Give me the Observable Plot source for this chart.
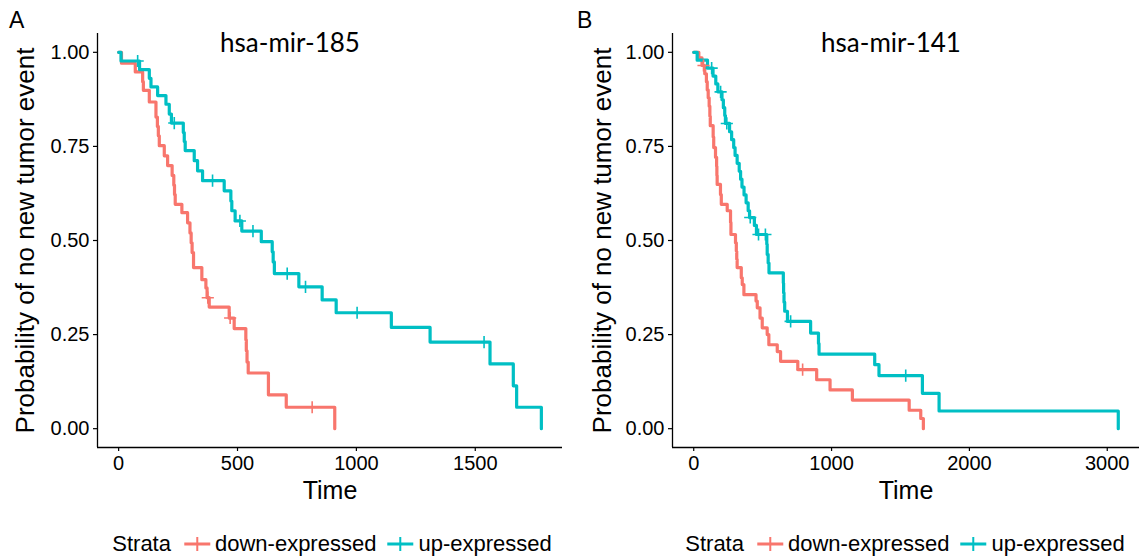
<!DOCTYPE html>
<html>
<head>
<meta charset="utf-8">
<script src="https://cdn.jsdelivr.net/npm/d3@7"></script>
<script src="https://cdn.jsdelivr.net/npm/@observablehq/plot@0.6"></script>
<style>
  html, body { margin: 0; padding: 0; background: #fff; }
  #root { position: relative; width: 1139px; height: 558px; overflow: hidden; background: #fff; }
  .panel { position: absolute; top: 0; }
  .tag { position: absolute; font-family: "Liberation Sans", Arial, sans-serif; font-size: 23px; color: #000; line-height: 1; }
  .title { position: absolute; font-family: Lato, "Open Sans", sans-serif; font-size: 26px; color: #000; line-height: 1; transform: translateX(-50%); white-space: nowrap; }
  .legend { position: absolute; display: flex; align-items: center; transform: translateX(-50%); height: 24px; line-height: 24px;
            font-family: "Liberation Sans", Arial, sans-serif; font-size: 22px; color: #000; white-space: nowrap; }
  .legend svg { margin: 0 4px; }
</style>
</head>
<body>
<div id="root"></div>
<script>
// ---------- data ----------
const strata = ["down-expressed", "up-expressed"];
const strataColors = ["#F8766D", "#00BFC4"];
const yTicks = [0, 0.25, 0.5, 0.75, 1];

// Panel A: hsa-mir-185
const mir185Title = "hsa-mir-185";
const mir185Ticks = [0, 500, 1000, 1500];
const mir185DownTime = [0, 12, 70, 101, 104, 129, 157, 163, 167, 171, 192, 206, 225, 232, 235, 238, 266, 290, 300, 305, 309, 315, 350, 367, 372, 381, 465, 486, 535, 537, 540, 545, 630, 705, 909];
const mir185DownSurv = [1, 0.971, 0.948, 0.922, 0.899, 0.868, 0.828, 0.803, 0.778, 0.752, 0.725, 0.699, 0.673, 0.647, 0.622, 0.596, 0.574, 0.547, 0.520, 0.494, 0.468, 0.428, 0.396, 0.374, 0.348, 0.323, 0.294, 0.266, 0.236, 0.207, 0.177, 0.148, 0.090, 0.057, 0];
const mir185DownCensor = [375, 469, 814];
const mir185UpTime = [0, 10, 88, 129, 136, 164, 199, 213, 222, 272, 276, 280, 318, 332, 353, 444, 472, 476, 490, 518, 600, 646, 650, 655, 758, 856, 915, 1147, 1310, 1562, 1660, 1674, 1778];
const mir185UpSurv = [1, 0.977, 0.954, 0.931, 0.908, 0.885, 0.862, 0.836, 0.812, 0.787, 0.763, 0.739, 0.712, 0.685, 0.659, 0.632, 0.605, 0.579, 0.552, 0.525, 0.497, 0.470, 0.443, 0.412, 0.377, 0.342, 0.308, 0.269, 0.230, 0.172, 0.114, 0.057, 0];
const mir185UpCensor = [80, 234, 395, 510, 565, 709, 786, 1003, 1537];

// Panel B: hsa-mir-141
const mir141Title = "hsa-mir-141";
const mir141Ticks = [0, 1000, 2000, 3000];
const mir141DownTime = [0, 37, 60, 80, 92, 98, 105, 112, 117, 120, 141, 145, 158, 166, 168, 170, 194, 200, 243, 267, 270, 303, 309, 312, 315, 345, 352, 364, 452, 461, 481, 497, 533, 545, 606, 630, 755, 892, 989, 1151, 1563, 1647, 1666];
const mir141DownSurv = [1, 0.985, 0.965, 0.943, 0.922, 0.900, 0.879, 0.857, 0.830, 0.805, 0.775, 0.747, 0.721, 0.697, 0.673, 0.649, 0.622, 0.596, 0.579, 0.548, 0.516, 0.494, 0.472, 0.450, 0.428, 0.401, 0.383, 0.356, 0.339, 0.321, 0.294, 0.268, 0.250, 0.223, 0.205, 0.179, 0.157, 0.130, 0.103, 0.076, 0.049, 0.027, 0];
const mir141DownCensor = [71, 790];
const mir141UpTime = [0, 25, 100, 140, 160, 175, 205, 215, 225, 230, 260, 275, 290, 300, 315, 330, 340, 350, 365, 380, 395, 405, 440, 455, 530, 533, 540, 546, 650, 652, 655, 660, 680, 848, 905, 909, 1313, 1344, 1659, 1780, 3080];
const mir141UpSurv = [1, 0.979, 0.958, 0.937, 0.916, 0.895, 0.874, 0.853, 0.832, 0.811, 0.789, 0.768, 0.747, 0.726, 0.705, 0.684, 0.663, 0.642, 0.621, 0.600, 0.579, 0.561, 0.540, 0.516, 0.490, 0.463, 0.440, 0.414, 0.387, 0.361, 0.336, 0.312, 0.285, 0.254, 0.226, 0.198, 0.170, 0.141, 0.094, 0.047, 0];
const mir141UpCensor = [130, 195, 240, 410, 470, 520, 703, 1538];

// ---------- build ----------
function rows(time, surv, key) {
  return time.map((t, i) => ({t, s: surv[i], strata: key}));
}
function censorRows(time, surv, cens, key) {
  return cens.map(t => ({t, s: surv[Math.max(0, d3.bisectRight(time, t) - 1)], strata: key}));
}

function panel(cfg) {
  const lines = [
    ...rows(cfg.downTime, cfg.downSurv, strata[0]),
    ...rows(cfg.upTime, cfg.upSurv, strata[1])
  ];
  const cens = [
    ...censorRows(cfg.downTime, cfg.downSurv, cfg.downCensor, strata[0]),
    ...censorRows(cfg.upTime, cfg.upSurv, cfg.upCensor, strata[1])
  ];
  const tMax = d3.max(lines, d => d.t);
  const pad = tMax * 0.05;
  const xDomain = [-pad, tMax + pad];
  return Plot.plot({
    width: cfg.width,
    height: 510,
    marginLeft: 97,
    marginRight: cfg.marginRight,
    marginTop: 33,
    marginBottom: 63,
    style: {fontFamily: '"Liberation Sans", Arial, sans-serif', color: "#000", background: "transparent", overflow: "visible"},
    x: {domain: xDomain},
    y: {domain: [-0.05, 1.05]},
    color: {domain: strata, range: strataColors},
    marks: [
      Plot.ruleX([xDomain[0]], {stroke: "#000", strokeWidth: 1.3}),
      Plot.ruleY([-0.05], {stroke: "#000", strokeWidth: 1.3}),
      Plot.axisX({ticks: cfg.ticks, tickFormat: d3.format("d"), tickSize: 4, tickPadding: 4, fontSize: 20, label: null, strokeWidth: 1.2}),
      Plot.axisY({ticks: yTicks, tickFormat: d3.format(".2f"), tickSize: 4, tickPadding: 4, fontSize: 20, label: null, strokeWidth: 1.2}),
      Plot.line(lines, {x: "t", y: "s", z: "strata", stroke: "strata", curve: "step-after", strokeWidth: 3.2}),
      Plot.dot(cens, {x: "t", y: "s", stroke: "strata", fill: "none", symbol: "plus", r: 4, strokeWidth: 1.6}),
      Plot.text(["Time"], {text: d => d, frameAnchor: "bottom", dy: 51, fontSize: 25}),
      Plot.text(["Probability of no new tumor event"], {text: d => d, frameAnchor: "left", textAnchor: "middle", dx: cfg.labelDx, rotate: -90, fontSize: 26})
    ]
  });
}

const root = document.getElementById("root");

function addPanel(cfg, left) {
  const div = document.createElement("div");
  div.className = "panel";
  div.style.left = left + "px";
  div.appendChild(panel(cfg));
  root.appendChild(div);
}

addPanel({width: 570, marginRight: 8, labelDx: -72, ticks: mir185Ticks,
  downTime: mir185DownTime, downSurv: mir185DownSurv, downCensor: mir185DownCensor,
  upTime: mir185UpTime, upSurv: mir185UpSurv, upCensor: mir185UpCensor}, 0);
addPanel({width: 564, marginRight: 0, labelDx: -70, ticks: mir141Ticks,
  downTime: mir141DownTime, downSurv: mir141DownSurv, downCensor: mir141DownCensor,
  upTime: mir141UpTime, upSurv: mir141UpSurv, upCensor: mir141UpCensor}, 575);

function addText(cls, text, left, top) {
  const d = document.createElement("div");
  d.className = cls;
  d.textContent = text;
  d.style.left = left + "px";
  d.style.top = top + "px";
  root.appendChild(d);
}
addText("tag", "A", 9, 9);
addText("tag", "B", 577, 9);
addText("title", mir185Title, 290, 29);
addText("title", mir141Title, 891, 29);

function addLegend(center) {
  const lg = document.createElement("div");
  lg.className = "legend";
  lg.style.left = center + "px";
  lg.style.top = "532px";
  const lab = document.createElement("span");
  lab.textContent = "Strata";
  lab.style.marginRight = "8px";
  lg.appendChild(lab);
  strata.forEach((s, i) => {
    const svg = d3.create("svg").attr("width", 28).attr("height", 22);
    svg.append("line").attr("x1", 1).attr("x2", 27).attr("y1", 11).attr("y2", 11)
      .attr("stroke", strataColors[i]).attr("stroke-width", 3);
    svg.append("line").attr("x1", 14).attr("x2", 14).attr("y1", 4).attr("y2", 18)
      .attr("stroke", strataColors[i]).attr("stroke-width", 2);
    lg.appendChild(svg.node());
    const t = document.createElement("span");
    t.textContent = s;
    if (i === 0) t.style.marginRight = "6px";
    lg.appendChild(t);
  });
  root.appendChild(lg);
}
addLegend(332);
addLegend(905);
</script>
</body>
</html>
